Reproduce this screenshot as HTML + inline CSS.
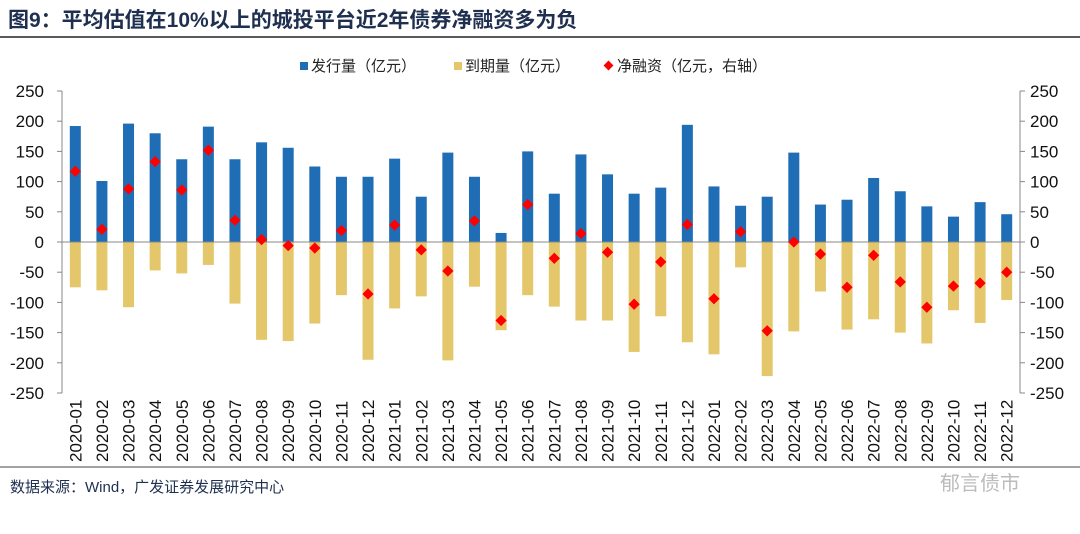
<!DOCTYPE html>
<html><head><meta charset="utf-8"><style>
body{margin:0;background:#fff;width:1080px;height:529px;overflow:hidden;font-family:"Liberation Sans","Noto Sans CJK SC",sans-serif}
</style></head><body>
<svg id="chart" width="1080" height="529" xmlns="http://www.w3.org/2000/svg" font-family="Liberation Sans, Noto Sans CJK SC, sans-serif">
<text x="8" y="27" font-size="21" font-weight="bold" fill="#1f2f4f">图9：平均估值在10%以上的城投平台近2年债券净融资多为负</text>
<line x1="0" y1="37" x2="1080" y2="37" stroke="#222" stroke-width="1.5"/>
<g font-size="15" fill="#222">
<rect x="300" y="62" width="8" height="8" fill="#1f6db5"/>
<text x="311" y="71">发行量（亿元）</text>
<rect x="454" y="62" width="8" height="8" fill="#e5c76b"/>
<text x="465" y="71">到期量（亿元）</text>
<rect x="605" y="62" width="7" height="7" fill="#f00" transform="rotate(45 608.5 65.5)"/>
<text x="617" y="71">净融资（亿元，右轴）</text>
</g>
<g id="plot"></g>
<line x1="0" y1="467" x2="1080" y2="467" stroke="#444" stroke-width="1"/>
<text x="10" y="492" font-size="15" fill="#1f2f4f">数据来源：Wind，广发证券发展研究中心</text>
<text x="940" y="490" font-size="20" fill="#bbb">郁言债市</text>
</svg>
<script>
const categories=["2020-01","2020-02","2020-03","2020-04","2020-05","2020-06","2020-07","2020-08","2020-09","2020-10","2020-11","2020-12","2021-01","2021-02","2021-03","2021-04","2021-05","2021-06","2021-07","2021-08","2021-09","2021-10","2021-11","2021-12","2022-01","2022-02","2022-03","2022-04","2022-05","2022-06","2022-07","2022-08","2022-09","2022-10","2022-11","2022-12"];
const issuance=[192,101,196,180,137,191,137,165,156,125,108,108,138,75,148,108,15,150,80,145,112,80,90,194,92,60,75,148,62,70,106,84,59,42,66,46];
const maturity=[-75,-80,-108,-47,-52,-38,-102,-162,-164,-135,-88,-195,-110,-90,-196,-74,-146,-88,-107,-130,-130,-182,-123,-166,-186,-42,-222,-148,-82,-145,-128,-150,-168,-113,-134,-96];
const netFinancing=[117,21,88,133,86,152,36,4,-6,-10,19,-86,28,-13,-48,35,-130,62,-27,14,-17,-103,-33,29,-94,17,-147,0,-20,-75,-22,-66,-108,-73,-68,-50];
const ticks=[250,200,150,100,50,0,-50,-100,-150,-200,-250];
const NS="http://www.w3.org/2000/svg",g=document.getElementById('plot');
const L=62,R=1020,T=91,B=393;
const y=v=>T+(250-v)/500*(B-T);
const step=(R-L)/categories.length;
const x=i=>L+step*(i+0.5);
function mk(t,a){const e=document.createElementNS(NS,t);for(const k in a)e.setAttribute(k,a[k]);g.appendChild(e);return e;}
let e;
e=mk('line',{x1:L,y1:T,x2:L,y2:B,stroke:'#888'});


e=mk('line',{x1:R,y1:T,x2:R,y2:B,stroke:'#888'});


ticks.forEach(t=>{
 e=mk('line',{x1:L-5,y1:y(t),x2:L,y2:y(t),stroke:'#888'});
 
 
 e=mk('line',{x1:R,y1:y(t),x2:R+5,y2:y(t),stroke:'#888'});
 
 
 e=mk('text',{x:44,y:y(t)+6,'text-anchor':'end','font-size':17,fill:'#111'});e.textContent=t;
 
 
 e=mk('text',{x:1030,y:y(t)+6,'text-anchor':'start','font-size':17,fill:'#111'});e.textContent=t;
 
 
});
const bw=11;
categories.forEach((c,i)=>{
 e=mk('rect',{x:x(i)-bw/2,y:y(issuance[i]),width:bw,height:y(0)-y(issuance[i]),fill:'#1f6db5'});
 
 
 e=mk('rect',{x:x(i)-bw/2,y:y(0),width:bw,height:y(maturity[i])-y(0),fill:'#e5c76b'});
 
 
 e=mk('text',{transform:`translate(${x(i)+6},${462}) rotate(-90)`,'font-size':17,fill:'#111'});e.textContent=c;
 
 
});
e=mk('line',{x1:L,y1:y(0),x2:R,y2:y(0),stroke:'#888'});


categories.forEach((c,i)=>{
 const cx=x(i),cy=y(netFinancing[i]);
 e=mk('rect',{x:cx-4,y:cy-4,width:8,height:8,fill:'#f00',transform:`rotate(45 ${cx} ${cy})`});
 
 
});
</script>
</body></html>
